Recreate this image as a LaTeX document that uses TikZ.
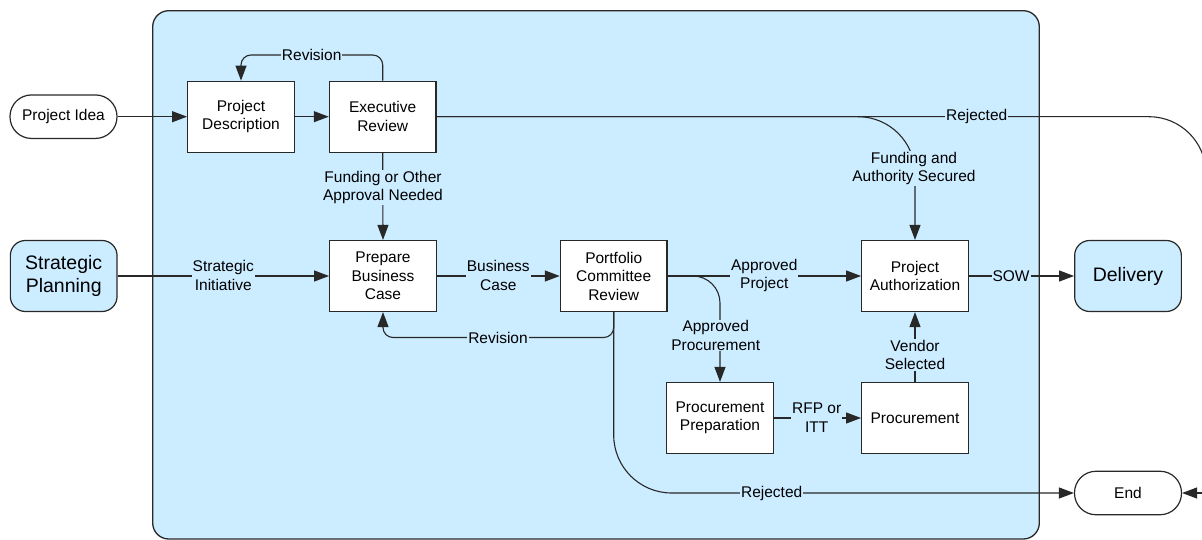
\documentclass[tikz,border=0pt]{standalone}
\usepackage{fontspec}
\setmainfont{Liberation Sans}
\usetikzlibrary{arrows.meta}
\definecolor{bgblue}{RGB}{204,236,255}
\definecolor{edge}{RGB}{40,40,40}
\begin{document}
\begin{tikzpicture}[x=1pt,y=-1pt,
  box/.style={draw=edge, line width=1.2pt, fill=white, minimum width=106.7pt, minimum height=71pt, inner sep=2pt, align=center, font=\fontsize{15.5}{18.5}\selectfont},
  bigbox/.style={draw=edge, line width=1.2pt, fill=bgblue, rounded corners=15pt, minimum width=106.7pt, minimum height=71pt, inner sep=2pt, align=center, font=\fontsize{19.5}{23.5}\selectfont},
  term/.style={draw=edge, line width=1.2pt, fill=white, rounded corners=21.5pt, minimum width=107pt, minimum height=43.5pt, inner sep=2pt, font=\fontsize{15.5}{18.5}\selectfont},
  lbl/.style={fill=bgblue, inner sep=1pt, align=center, font=\fontsize{15.5}{18.5}\selectfont},
  conn/.style={draw=edge, line width=1.1pt},
  arr/.style={conn, -{Triangle[length=15pt,width=11pt]}},
]
\useasboundingbox (0,0) rectangle (1202,540);
\clip (0,0) rectangle (1202,540);
\fill[white] (0,0) rectangle (1202,540);
% container
\draw[draw=edge, line width=1.3pt, fill=bgblue, rounded corners=16pt] (152.7,10.7) rectangle (1039.3,539);

% nodes
\node[term] (pi) at (63.5,116.7) {Project Idea};
\node[box] (pd) at (241,116.7) {Project\\Description};
\node[box] (er) at (382.7,116.7) {Executive\\Review};
\node[bigbox] (sp) at (63.7,276) {Strategic\\Planning};
\node[box] (pbc) at (383,276) {Prepare\\Business\\Case};
\node[box] (pcr) at (613.7,276) {Portfolio\\Committee\\Review};
\node[box] (pa) at (915,276) {Project\\Authorization};
\node[bigbox] (del) at (1128,276) {Delivery};
\node[box] (ppr) at (720,418) {Procurement\\Preparation};
\node[box] (pr) at (915,418) {Procurement};
\node[term] (end) at (1128,493) {End};
\coordinate (rout) at (1206,300);
\coordinate (rin) at (1215,493);

% connectors
\draw[arr] (pi) -- (pd);
\draw[arr] (pd) -- (er);
\draw[arr, rounded corners=10pt] (er.north) -- (382.7,55) -- (241,55) -- (pd.north);
\draw[conn, rounded corners=57pt] (er.east) -- (rout |- er.east) -- (rout);
\draw[arr, rounded corners=57pt] (er.east) -- (pa.north |- er.east) -- (pa.north);
\draw[arr] (er.south) -- (pbc.north);
\draw[arr] (sp) -- (pbc);
\draw[arr] (pbc) -- (pcr);
\draw[arr] (pcr) -- (pa);
\draw[arr] (pa) -- (del);
\draw[arr, rounded corners=27pt] (pcr.east) -- (ppr.north |- pcr.east) -- (ppr.north);
\draw[arr, rounded corners=10pt] (pcr.south) -- (613.7,337.5) -- (383,337.5) -- (pbc.south);
\draw[arr, rounded corners=58pt] (pcr.south) -- (pcr.south |- end.west) -- (end.west);
\draw[arr] (ppr) -- (pr);
\draw[arr] (pr) -- (pa);
\draw[arr] (rin) -- (end.east);

% labels
\node[lbl] (l1) at (311.7,55) {Revision};
\node[lbl] (l2) at (976.7,116.7) {Rejected};
\node[lbl] (l3) at (914,168.5) {Funding and\\Authority Secured};
\node[lbl] (l4) at (383,187.5) {Funding or Other\\Approval Needed};
\node[lbl] (l5) at (223.3,275.5) {Strategic\\Initiative};
\node[lbl] (l6) at (498.3,275.5) {Business\\Case};
\node[lbl] (l7) at (764.3,275.5) {Approved\\Project};
\node[lbl] (l8) at (1011,276) {SOW};
\node[lbl] (l9) at (715.7,335.5) {Approved\\Procurement};
\node[lbl] (l10) at (498,337.5) {Revision};
\node[lbl] (l11) at (816.7,417.5) {RFP or\\ITT};
\node[lbl] (l12) at (915,355) {Vendor\\Selected};
\node[lbl] (l13) at (771.7,493) {Rejected};
\end{tikzpicture}
\end{document}
